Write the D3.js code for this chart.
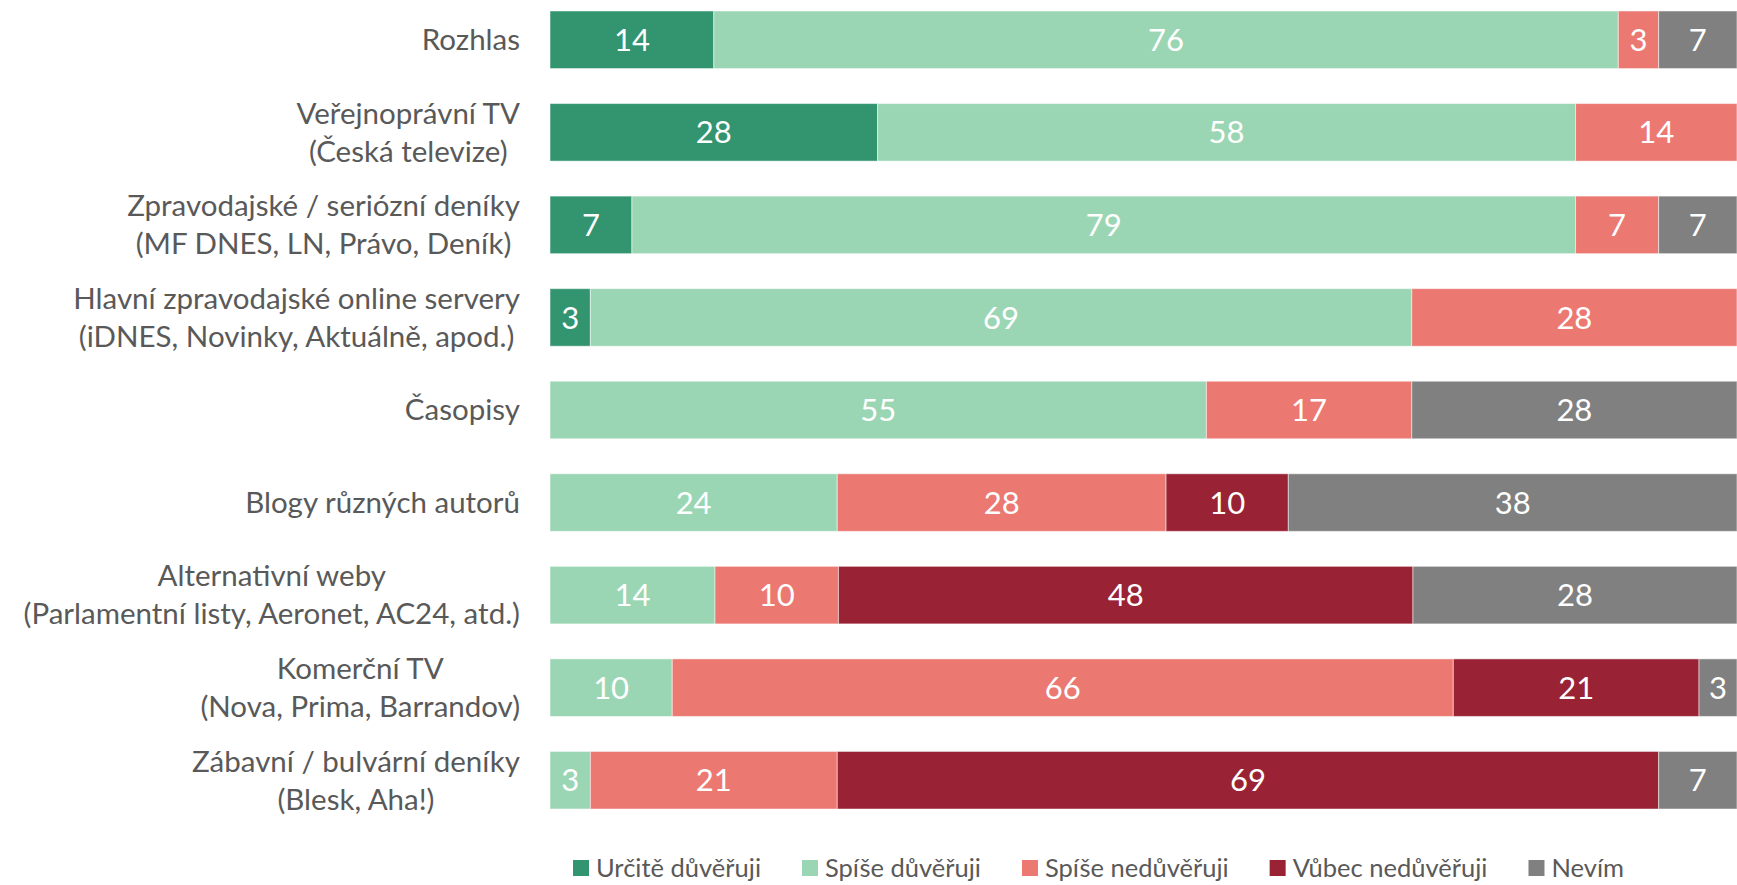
<!DOCTYPE html>
<html lang="cs">
<head>
<meta charset="UTF-8">
<script src="https://d3js.org/d3.v7.min.js"></script>
<style>
  body { margin: 0; background: #fff; }
  text { font-family: Lato, "Open Sans", sans-serif; }
</style>
</head>
<body>
<div id="vis"></div>
<script>
    var categories = [
        ["Rozhlas"],
        ["Veřejnoprávní TV", "(Česká televize)"],
        ["Zpravodajské / seriózní deníky", "(MF DNES, LN, Právo, Deník)"],
        ["Hlavní zpravodajské online servery", "(iDNES, Novinky, Aktuálně, apod.)"],
        ["Časopisy"],
        ["Blogy různých autorů"],
        ["Alternativní weby", "(Parlamentní listy, Aeronet, AC24, atd.)"],
        ["Komerční TV", "(Nova, Prima, Barrandov)"],
        ["Zábavní / bulvární deníky", "(Blesk, Aha!)"]
    ];
    var seriesNames = ["Určitě důvěřuji", "Spíše důvěřuji", "Spíše nedůvěřuji", "Vůbec nedůvěřuji", "Nevím"];
    var seriesColors = ["#339470", "#9bd6b4", "#ec7872", "#992335", "#808080"];

    // bar lengths (%)
    var urcite   = [13.8, 27.6, 6.9, 3.4, 0, 0, 0, 0, 0];
    var spise    = [76.2, 58.8, 79.5, 69.2, 55.3, 24.2, 13.9, 10.3, 3.4];
    var spiseNe  = [3.4, 13.6, 7.0, 27.4, 17.3, 27.7, 10.4, 65.8, 20.8];
    var vubecNe  = [0, 0, 0, 0, 0, 10.3, 48.4, 20.7, 69.2];
    var nevim    = [6.6, 0, 6.6, 0, 27.4, 37.8, 27.4, 3.2, 6.6];

    // printed data labels
    var urciteLbl  = [14, 28, 7, 3, 0, 0, 0, 0, 0];
    var spiseLbl   = [76, 58, 79, 69, 55, 24, 14, 10, 3];
    var spiseNeLbl = [3, 14, 7, 28, 17, 28, 10, 66, 21];
    var vubecNeLbl = [0, 0, 0, 0, 0, 10, 48, 21, 69];
    var nevimLbl   = [7, 0, 7, 0, 28, 38, 28, 3, 7];

    var series = [urcite, spise, spiseNe, vubecNe, nevim];
    var labels = [urciteLbl, spiseLbl, spiseNeLbl, vubecNeLbl, nevimLbl];

    var width = 1737, height = 885,
        svg = d3.select("#vis").append("svg").attr("width", width).attr("height", height);

    var x = d3.scaleLinear().domain([0, 100]).range([550, 1737]);
    var y = d3.scaleBand().domain(d3.range(categories.length)).range([-24, 844]).padding(0.378);

    // stack rows
    var segs = [];
    categories.forEach(function(c, i) {
        var acc = 0;
        series.forEach(function(s, k) {
            if (s[i] > 0) segs.push({row: i, k: k, v: s[i], lbl: labels[k][i], x0: acc, x1: acc + s[i]});
            acc += s[i];
        });
    });

    svg.append("g").selectAll("rect").data(segs).enter().append("rect")
        .attr("x", function(d){ return x(d.x0); })
        .attr("y", function(d){ return y(d.row); })
        .attr("width", function(d){ return x(Math.min(d.x1, 100)) - x(d.x0); })
        .attr("height", y.bandwidth())
        .style("fill", function(d){ return seriesColors[d.k]; })
        .style("stroke", "#fff").style("stroke-opacity", 0.5).style("stroke-width", 1);

    svg.append("g").selectAll("text").data(segs).enter().append("text")
        .attr("x", function(d){ return (x(d.x0) + x(Math.min(d.x1, 100))) / 2; })
        .attr("y", function(d){ return y(d.row) + y.bandwidth() / 2; })
        .attr("dy", "0.36em")
        .attr("text-anchor", "middle")
        .style("fill", "#fff").style("font-size", "31px")
        .text(function(d){ return d.lbl; });

    // category labels: lines centred on each other, block right aligned
    var labelRight = 520, lineH = 38;
    categories.forEach(function(lines, i) {
        var cy = y(i) + y.bandwidth() / 2;
        var t = svg.append("text").attr("text-anchor", "middle")
            .style("fill", "#595959").style("font-size", "29.5px");
        lines.forEach(function(l, j) {
            t.append("tspan").attr("x", 0)
                .attr("y", cy + (j - (lines.length - 1) / 2) * lineH)
                .attr("dy", "0.35em").text(l);
        });
        var w = d3.max(t.selectAll("tspan").nodes(), function(n){ return n.getComputedTextLength(); });
        t.attr("transform", "translate(" + (labelRight - w / 2) + ",0)");
    });

    // legend
    var lx = 573, ly = 868;
    seriesNames.forEach(function(name, k) {
        svg.append("rect").attr("x", lx).attr("y", ly - 8).attr("width", 16).attr("height", 16)
            .style("fill", seriesColors[k]);
        var t = svg.append("text").attr("x", lx + 23).attr("y", ly).attr("dy", "0.35em")
            .style("fill", "#595959").style("font-size", "25.5px").text(name);
        lx += 23 + t.node().getComputedTextLength() + 41;
    });
</script>
</body>
</html>
